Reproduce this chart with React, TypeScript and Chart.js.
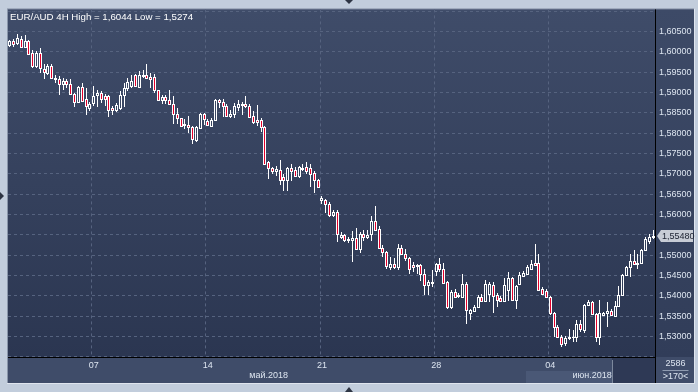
import React, { useEffect, useRef } from 'react';
import { Chart, registerables } from 'chart.js';

Chart.register(...registerables);

// ---------- data (EUR/AUD, 4H bars) ----------
const chartTitle = 'EUR/AUD 4H High = 1,6044 Low = 1,5274';

const open = [
  1.6016, 1.6027, 1.6021, 1.6032, 1.6011, 1.6027, 1.5997, 1.5964, 1.5997, 1.5958,
  1.5948, 1.5964, 1.5936, 1.5934, 1.5921, 1.5929, 1.5920, 1.5895, 1.5877, 1.5913,
  1.5885, 1.5862, 1.5875, 1.5893, 1.5899, 1.5891, 1.5891, 1.5861, 1.5856, 1.5861,
  1.5893, 1.5911, 1.5915, 1.5942, 1.5913, 1.5942, 1.5942, 1.5937, 1.5937, 1.5905,
  1.5881, 1.5889, 1.5881, 1.5871, 1.5846, 1.5836, 1.5820, 1.5820, 1.5815, 1.5783,
  1.5812, 1.5846, 1.5830, 1.5818, 1.5832, 1.5881, 1.5876, 1.5866, 1.5843, 1.5846,
  1.5865, 1.5870, 1.5872, 1.5867, 1.5842, 1.5832, 1.5832, 1.5815, 1.5728, 1.5714,
  1.5706, 1.5709, 1.5693, 1.5685, 1.5714, 1.5709, 1.5695, 1.5713, 1.5716, 1.5714,
  1.5701, 1.5685, 1.5636, 1.5636, 1.5626, 1.5600, 1.5607, 1.5546, 1.5550, 1.5540,
  1.5538, 1.5543, 1.5516, 1.5553, 1.5546, 1.5551, 1.5583, 1.5565, 1.5518, 1.5508,
  1.5470, 1.5479, 1.5470, 1.5518, 1.5504, 1.5492, 1.5475, 1.5475, 1.5475, 1.5453,
  1.5426, 1.5432, 1.5461, 1.5479, 1.5465, 1.5434, 1.5372, 1.5410, 1.5399, 1.5398,
  1.5430, 1.5357, 1.5363, 1.5373, 1.5398, 1.5388, 1.5406, 1.5428, 1.5402, 1.5394,
  1.5388, 1.5414, 1.5443, 1.5391, 1.5430, 1.5448, 1.5455, 1.5467, 1.5482, 1.5482,
  1.5416, 1.5412, 1.5398, 1.5357, 1.5324, 1.5300, 1.5284, 1.5296, 1.5300, 1.5300,
  1.5332, 1.5316, 1.5377, 1.5386, 1.5355, 1.5300, 1.5353, 1.5357, 1.5363, 1.5350,
  1.5375, 1.5402, 1.5451, 1.5471, 1.5487, 1.5479, 1.5482, 1.5514, 1.5534, 1.5544,
];

const high = [
  1.6028, 1.6032, 1.6044, 1.6038, 1.6042, 1.6030, 1.6005, 1.6001, 1.6008, 1.5969,
  1.5970, 1.5969, 1.5944, 1.5940, 1.5936, 1.5934, 1.5932, 1.5899, 1.5915, 1.5924,
  1.5910, 1.5877, 1.5915, 1.5907, 1.5903, 1.5895, 1.5893, 1.5867, 1.5875, 1.5903,
  1.5924, 1.5936, 1.5944, 1.5946, 1.5952, 1.5956, 1.5969, 1.5948, 1.5946, 1.5907,
  1.5893, 1.5893, 1.5905, 1.5891, 1.5862, 1.5838, 1.5834, 1.5842, 1.5818, 1.5818,
  1.5850, 1.5850, 1.5834, 1.5836, 1.5883, 1.5885, 1.5883, 1.5871, 1.5858, 1.5875,
  1.5881, 1.5877, 1.5891, 1.5872, 1.5854, 1.5869, 1.5836, 1.5818, 1.5732, 1.5717,
  1.5720, 1.5734, 1.5700, 1.5716, 1.5724, 1.5716, 1.5720, 1.5724, 1.5730, 1.5724,
  1.5708, 1.5687, 1.5646, 1.5638, 1.5632, 1.5611, 1.5610, 1.5557, 1.5553, 1.5546,
  1.5559, 1.5567, 1.5557, 1.5562, 1.5562, 1.5597, 1.5620, 1.5573, 1.5524, 1.5510,
  1.5496, 1.5492, 1.5527, 1.5524, 1.5516, 1.5496, 1.5483, 1.5479, 1.5479, 1.5465,
  1.5438, 1.5463, 1.5481, 1.5492, 1.5481, 1.5437, 1.5414, 1.5416, 1.5407, 1.5453,
  1.5434, 1.5368, 1.5377, 1.5402, 1.5404, 1.5438, 1.5434, 1.5434, 1.5407, 1.5399,
  1.5443, 1.5459, 1.5447, 1.5426, 1.5459, 1.5461, 1.5475, 1.5489, 1.5528, 1.5504,
  1.5421, 1.5418, 1.5399, 1.5361, 1.5328, 1.5304, 1.5302, 1.5318, 1.5316, 1.5342,
  1.5340, 1.5381, 1.5390, 1.5388, 1.5359, 1.5390, 1.5361, 1.5386, 1.5367, 1.5388,
  1.5424, 1.5455, 1.5473, 1.5504, 1.5512, 1.5504, 1.5516, 1.5544, 1.5553, 1.5563,
];

const low = [
  1.6012, 1.6011, 1.6017, 1.6008, 1.6008, 1.5993, 1.5960, 1.5960, 1.5948, 1.5934,
  1.5944, 1.5934, 1.5924, 1.5893, 1.5907, 1.5911, 1.5893, 1.5864, 1.5875, 1.5877,
  1.5844, 1.5854, 1.5867, 1.5864, 1.5875, 1.5867, 1.5840, 1.5845, 1.5853, 1.5858,
  1.5864, 1.5903, 1.5911, 1.5913, 1.5911, 1.5936, 1.5932, 1.5911, 1.5899, 1.5879,
  1.5872, 1.5871, 1.5869, 1.5822, 1.5822, 1.5814, 1.5810, 1.5801, 1.5774, 1.5779,
  1.5810, 1.5820, 1.5818, 1.5815, 1.5830, 1.5862, 1.5840, 1.5840, 1.5836, 1.5836,
  1.5854, 1.5845, 1.5862, 1.5838, 1.5822, 1.5818, 1.5804, 1.5722, 1.5687, 1.5700,
  1.5695, 1.5673, 1.5659, 1.5657, 1.5683, 1.5693, 1.5691, 1.5708, 1.5700, 1.5667,
  1.5652, 1.5664, 1.5627, 1.5603, 1.5595, 1.5595, 1.5532, 1.5540, 1.5532, 1.5530,
  1.5483, 1.5514, 1.5505, 1.5535, 1.5540, 1.5536, 1.5561, 1.5516, 1.5496, 1.5465,
  1.5463, 1.5467, 1.5463, 1.5500, 1.5486, 1.5455, 1.5459, 1.5455, 1.5437, 1.5402,
  1.5402, 1.5422, 1.5448, 1.5459, 1.5430, 1.5369, 1.5369, 1.5394, 1.5394, 1.5394,
  1.5330, 1.5342, 1.5360, 1.5372, 1.5386, 1.5386, 1.5386, 1.5359, 1.5373, 1.5386,
  1.5388, 1.5388, 1.5388, 1.5369, 1.5429, 1.5446, 1.5451, 1.5465, 1.5473, 1.5412,
  1.5402, 1.5394, 1.5353, 1.5298, 1.5298, 1.5274, 1.5277, 1.5292, 1.5288, 1.5288,
  1.5312, 1.5308, 1.5375, 1.5353, 1.5288, 1.5280, 1.5350, 1.5324, 1.5350, 1.5349,
  1.5373, 1.5400, 1.5448, 1.5447, 1.5475, 1.5467, 1.5479, 1.5512, 1.5527, 1.5541,
];

const close = [
  1.6026, 1.6019, 1.6034, 1.6011, 1.6027, 1.5995, 1.5964, 1.5997, 1.5960, 1.5951,
  1.5964, 1.5936, 1.5933, 1.5921, 1.5928, 1.5920, 1.5895, 1.5877, 1.5913, 1.5879,
  1.5867, 1.5871, 1.5891, 1.5899, 1.5885, 1.5884, 1.5858, 1.5856, 1.5869, 1.5893,
  1.5911, 1.5926, 1.5928, 1.5915, 1.5942, 1.5940, 1.5936, 1.5934, 1.5905, 1.5881,
  1.5889, 1.5881, 1.5871, 1.5846, 1.5836, 1.5818, 1.5823, 1.5815, 1.5785, 1.5814,
  1.5848, 1.5834, 1.5820, 1.5832, 1.5881, 1.5876, 1.5866, 1.5842, 1.5846, 1.5867,
  1.5872, 1.5872, 1.5866, 1.5840, 1.5828, 1.5828, 1.5814, 1.5724, 1.5714, 1.5708,
  1.5711, 1.5685, 1.5685, 1.5714, 1.5708, 1.5695, 1.5716, 1.5714, 1.5708, 1.5700,
  1.5685, 1.5668, 1.5640, 1.5626, 1.5600, 1.5607, 1.5551, 1.5550, 1.5538, 1.5538,
  1.5543, 1.5516, 1.5553, 1.5546, 1.5550, 1.5583, 1.5562, 1.5518, 1.5508, 1.5473,
  1.5479, 1.5470, 1.5518, 1.5504, 1.5492, 1.5467, 1.5470, 1.5473, 1.5453, 1.5426,
  1.5434, 1.5434, 1.5479, 1.5465, 1.5432, 1.5372, 1.5410, 1.5398, 1.5402, 1.5430,
  1.5365, 1.5365, 1.5373, 1.5398, 1.5388, 1.5430, 1.5430, 1.5399, 1.5390, 1.5388,
  1.5426, 1.5443, 1.5390, 1.5424, 1.5451, 1.5456, 1.5470, 1.5478, 1.5476, 1.5414,
  1.5404, 1.5398, 1.5357, 1.5324, 1.5300, 1.5282, 1.5296, 1.5300, 1.5298, 1.5332,
  1.5320, 1.5377, 1.5386, 1.5355, 1.5300, 1.5357, 1.5357, 1.5363, 1.5353, 1.5375,
  1.5402, 1.5451, 1.5471, 1.5486, 1.5479, 1.5482, 1.5514, 1.5540, 1.5544, 1.5548,
];

const firstBarUTC = [2018, 4, 1, 8]; // 1 May 2018, 08:00
const weekTickDates = ['2018-05-07', '2018-05-14', '2018-05-21', '2018-05-28', '2018-06-04'];
const weekTickLabels = ['07', '14', '21', '28', '04'];
const monthKeys = ['2018-05', '2018-06'];
const monthLabels = ['май.2018', 'июн.2018'];
const yMin = 1.525;
const yMax = 1.6104;
const yStep = 0.005;
const cornerTop = '2586';
const cornerBottom = '>170<';

// ---------- derived tables ----------
function buildBarTimes(count: number): number[] {
  const out: number[] = [];
  let t = Date.UTC(firstBarUTC[0], firstBarUTC[1], firstBarUTC[2], firstBarUTC[3]);
  while (out.length < count) {
    const wd = new Date(t).getUTCDay();
    if (wd !== 0 && wd !== 6) out.push(t);
    t += 4 * 3600 * 1000;
  }
  return out;
}
const barTimes = buildBarTimes(open.length);
const categories = barTimes.map((t) => new Date(t).toISOString().slice(0, 16).replace('T', ' '));

const weekTickIndex = weekTickDates.map((d) => categories.indexOf(d + ' 00:00'));
const xTickLabels: (string | string[])[] = categories.map(() => '');
weekTickIndex.forEach((idx, k) => {
  if (idx >= 0) xTickLabels[idx] = weekTickLabels[k];
});
const monthFirstIndex: number[] = [];
monthKeys.forEach((key, k) => {
  const idxs = categories.map((c, i) => (c.startsWith(key) ? i : -1)).filter((i) => i >= 0);
  monthFirstIndex.push(idxs[0]);
  const mid = Math.round((idxs[0] + idxs[idxs.length - 1]) / 2);
  xTickLabels[mid] = ['', monthLabels[k]];
});

const upperWick = open.map((o, i) => {
  const top = Math.max(o, close[i]);
  return high[i] > top ? [top, high[i]] : null;
});
const lowerWick = open.map((o, i) => {
  const bot = Math.min(o, close[i]);
  return low[i] < bot ? [low[i], bot] : null;
});
const bodies = open.map((o, i) => [o, close[i]]);

// ---------- style ----------
const FONT = "'Liberation Sans', Arial, sans-serif";
const WHITE = '#ffffff';
const RED = '#e3002b';
const GRID = '#56637f';
const TEXT = '#dde5f0';
const bodyFill = open.map((o, i) => (close[i] < o ? RED : 'rgba(0,0,0,0)'));
const fmtPrice = (v: number) => v.toFixed(5).replace('.', ',');
const lastClose = close[close.length - 1];

const snapPlugin = {
  id: 'snapPixels',
  afterDatasetsUpdate(chart: any) {
    chart.data.datasets.forEach((_: any, d: number) => {
      const meta = chart.getDatasetMeta(d);
      meta.data.forEach((el: any) => {
        if (!isFinite(el.x) || !isFinite(el.y) || !isFinite(el.base)) return;
        el.x = Math.floor(el.x) + 0.5;
        let a = Math.round(Math.min(el.y, el.base));
        let b = Math.round(Math.max(el.y, el.base));
        if (d === 2) b += 1;
        if (b <= a) b = a + 1;
        el.y = a;
        el.base = b;
      });
    });
  },
};

const tri = (ctx: CanvasRenderingContext2D, pts: number[][]) => {
  ctx.beginPath();
  ctx.moveTo(pts[0][0], pts[0][1]);
  for (let i = 1; i < pts.length; i++) ctx.lineTo(pts[i][0], pts[i][1]);
  ctx.closePath();
  ctx.fill();
};

const framePlugin = {
  id: 'terminalFrame',
  beforeDraw(chart: any) {
    const { ctx, chartArea: a, width, height } = chart;
    const ys = chart.scales.y;
    const xs = chart.scales.x;
    const right = ys.right;
    const bottom = xs.bottom;
    ctx.save();
    ctx.fillStyle = '#c2cddc';
    ctx.fillRect(0, 0, width, height);
    ctx.fillStyle = '#8a96aa';
    ctx.fillRect(a.left - 1, a.top - 1, right - a.left + 2, bottom - a.top + 2);
    ctx.fillStyle = '#dfe5ee';
    ctx.fillRect(a.left - 1, bottom, right - a.left + 2, 1);
    ctx.fillRect(right, a.top - 1, 1, bottom - a.top + 2);
    // plot background
    let g = ctx.createLinearGradient(0, a.top, 0, a.bottom);
    g.addColorStop(0, '#3f4c69');
    g.addColorStop(1, '#2b3651');
    ctx.fillStyle = g;
    ctx.fillRect(a.left, a.top, a.right - a.left, a.bottom - a.top);
    // right axis panel
    g = ctx.createLinearGradient(0, a.top, 0, a.bottom);
    g.addColorStop(0, '#3d4a67');
    g.addColorStop(1, '#313d59');
    ctx.fillStyle = g;
    ctx.fillRect(a.right, a.top, right - a.right, a.bottom - a.top);
    // bottom axis panel + corner
    ctx.fillStyle = '#3f4c69';
    ctx.fillRect(a.left, a.bottom, right - a.left, bottom - a.bottom);
    // current month strip
    const cat = (a.right - a.left) / categories.length;
    const juneLeft = xs.getPixelForValue(monthFirstIndex[1]) - cat / 2;
    const darkLeft = a.right - 43;
    ctx.fillStyle = '#4a5876';
    ctx.fillRect(Math.round(juneLeft), a.bottom + 14, darkLeft - Math.round(juneLeft), bottom - a.bottom - 14);
    ctx.fillStyle = '#2e3955';
    ctx.fillRect(darkLeft, a.bottom + 1, a.right - darkLeft, bottom - a.bottom - 1);
    ctx.fillStyle = '#7c889c';
    ctx.fillRect(darkLeft, a.bottom + 3, 1, bottom - a.bottom - 3);
    // frame arrows
    ctx.fillStyle = '#2d3443';
    const cx = Math.round(width / 2);
    tri(ctx, [[cx - 4, 0], [cx + 4, 0], [cx, 4]]);
    tri(ctx, [[cx - 4, height], [cx + 4, height], [cx, height - 5]]);
    const cy = Math.round(height / 2);
    tri(ctx, [[0, cy - 4], [0, cy + 4], [4, cy]]);
    ctx.restore();
  },
  afterDraw(chart: any) {
    const { ctx, chartArea: a } = chart;
    const ys = chart.scales.y;
    const xs = chart.scales.x;
    ctx.save();
    // axis lines
    ctx.fillStyle = '#000000';
    ctx.fillRect(a.left, a.bottom, a.right - a.left, 1);
    ctx.fillRect(a.right, a.top, 1, xs.bottom - a.top);
    // title
    ctx.font = `9.7px ${FONT}`;
    ctx.fillStyle = WHITE;
    ctx.textBaseline = 'middle';
    ctx.textAlign = 'left';
    ctx.fillText(chartTitle, a.left + 2, a.top + 7.5);
    // price tag
    ctx.font = `9px ${FONT}`;
    const py = Math.round(ys.getPixelForValue(lastClose));
    ctx.fillStyle = '#c7ccd5';
    ctx.beginPath();
    ctx.moveTo(a.right + 2, py);
    ctx.lineTo(a.right + 6, py - 6);
    ctx.lineTo(ys.right - 1, py - 6);
    ctx.lineTo(ys.right - 1, py + 6);
    ctx.lineTo(a.right + 6, py + 6);
    ctx.closePath();
    ctx.fill();
    ctx.fillStyle = '#1b2130';
    ctx.fillText(fmtPrice(lastClose), a.right + 7, py + 0.5);
    // corner box
    const ccx = (a.right + ys.right) / 2 + 1;
    ctx.fillStyle = TEXT;
    ctx.textAlign = 'center';
    ctx.fillText(cornerTop, ccx, a.bottom + 7);
    ctx.fillText(cornerBottom, ccx, a.bottom + 20);
    ctx.fillStyle = '#8f9bb0';
    ctx.fillRect(ccx - 13, a.bottom + 13, 26, 1);
    ctx.restore();
  },
};

export default function App() {
  const ref = useRef<HTMLCanvasElement | null>(null);

  useEffect(() => {
    if (!ref.current) return;
    const weekSet = new Set(weekTickIndex);
    const chart = new Chart(ref.current, {
      type: 'bar',
      data: {
        labels: categories,
        datasets: [
          {
            label: 'upper wick',
            data: upperWick as any,
            backgroundColor: WHITE,
            borderWidth: 0,
            barThickness: 1,
            grouped: false,
            inflateAmount: 0,
          } as any,
          {
            label: 'lower wick',
            data: lowerWick as any,
            backgroundColor: WHITE,
            borderWidth: 0,
            barThickness: 1,
            grouped: false,
            inflateAmount: 0,
          } as any,
          {
            label: 'body',
            data: bodies as any,
            backgroundColor: bodyFill,
            borderColor: WHITE,
            borderWidth: 1,
            borderSkipped: false,
            barThickness: 3,
            grouped: false,
            inflateAmount: 0,
          } as any,
        ],
      },
      options: {
        responsive: false,
        animation: false,
        devicePixelRatio: 1,
        layout: { padding: { left: 8, top: 8, right: 4, bottom: 9 } },
        plugins: { legend: { display: false }, tooltip: { enabled: false }, title: { display: false } },
        scales: {
          x: {
            type: 'category',
            offset: true,
            grid: {
              offset: true,
              drawTicks: false,
              lineWidth: 1,
              color: (c: any) => (weekSet.has(c.index) ? GRID : 'rgba(0,0,0,0)'),
            },
            border: { display: false, dash: [3, 3] },
            ticks: {
              autoSkip: false,
              maxRotation: 0,
              minRotation: 0,
              padding: 3,
              color: TEXT,
              font: { family: FONT, size: 9, lineHeight: 1.15 },
              callback: (_v: any, i: number) => xTickLabels[i],
            },
            afterFit: (s: any) => {
              s.height = 26;
            },
          },
          y: {
            position: 'right',
            min: yMin,
            max: yMax,
            grid: { color: GRID, drawTicks: false, lineWidth: 1 },
            border: { display: false, dash: [3, 3] },
            ticks: {
              stepSize: yStep,
              includeBounds: false,
              padding: 4,
              color: TEXT,
              font: { family: FONT, size: 9 },
              callback: (v: any) => {
                const n = Number(v);
                if (Math.abs(n - lastClose) < 0.0012) return '';
                if (n > yMax - 0.002 || n < yMin + 0.002) return '';
                return fmtPrice(n);
              },
            },
            afterFit: (s: any) => {
              s.width = 39;
            },
          },
        },
      } as any,
      plugins: [snapPlugin, framePlugin],
    });
    return () => chart.destroy();
  }, []);

  return (
    <div style={{ position: 'fixed', left: 0, top: 0, width: 698, height: 392, overflow: 'hidden' }}>
      <canvas ref={ref} width={698} height={392} style={{ display: 'block', width: 698, height: 392 }} />
    </div>
  );
}
